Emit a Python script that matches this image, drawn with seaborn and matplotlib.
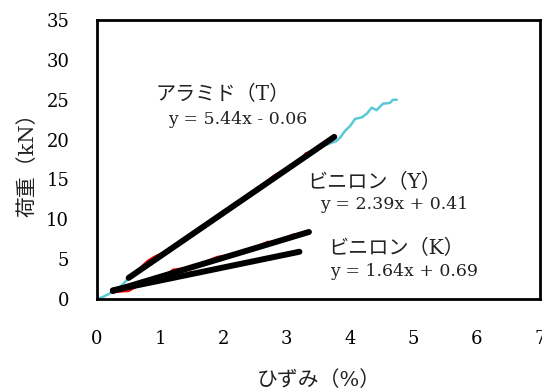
import numpy as np
import pandas as pd
import matplotlib
matplotlib.use("Agg")
import matplotlib.pyplot as plt
import seaborn as sns

# raw load-strain curve of aramid (T), cyan
aramid_x = [0.0, 0.1, 0.2, 0.3, 0.4, 0.5, 1.0, 2.0, 3.0, 3.5, 3.78, 3.85, 3.92, 4.0,
            4.08, 4.19, 4.27, 4.34, 4.42, 4.52, 4.63, 4.68, 4.74]
aramid_y = [0.0, 0.3, 0.7, 1.2, 1.8, 2.6, 5.4, 10.8, 16.3, 19.0, 19.8, 20.3, 21.1, 21.7,
            22.6, 22.8, 23.3, 24.0, 23.7, 24.5, 24.6, 25.0, 25.0]

# ranges used for regression (red)
aramid_reg_x = [0.5, 0.8, 0.9, 1.2, 1.6, 2.0, 2.1, 2.4, 2.8, 3.2, 3.3, 3.5, 3.75]
aramid_reg_y = [2.6, 4.8, 5.3, 6.4, 8.9, 10.6, 11.6, 13.0, 15.5, 17.3, 18.3, 18.8, 20.3]
vinY_x = [0.3, 0.7, 1.1, 1.2, 1.5, 1.9, 2.3, 2.7, 2.8, 3.1, 3.35]
vinY_y = [1.1, 2.3, 3.0, 3.7, 4.0, 5.3, 5.8, 7.2, 7.1, 8.1, 8.4]
vinK_x = [0.3, 0.5, 0.7, 1.1, 1.5, 1.7, 1.9, 2.3, 2.7, 3.0, 3.2]
vinK_y = [0.9, 1.0, 1.9, 2.4, 3.4, 3.3, 4.0, 4.4, 5.3, 5.4, 5.9]

# linear fits
fit_names = ["アラミド（T）", "ビニロン（Y）", "ビニロン（K）"]
fit_slope = [5.44, 2.39, 1.64]
fit_icept = [-0.06, 0.41, 0.69]
fit_x0 = [0.5, 0.25, 0.25]
fit_x1 = [3.75, 3.35, 3.2]
eq_labels = ["y = 5.44x - 0.06", "y = 2.39x + 0.41", "y = 1.64x + 0.69"]
name_pos = [(0.92, 25.6), (3.33, 14.6), (3.65, 6.3)]
eq_pos = [(1.12, 22.5), (3.52, 11.8), (3.68, 3.4)]

sns.set_theme(style="white")
plt.rcParams['font.family'] = ['DejaVu Serif', 'Noto Sans CJK JP']

fig = plt.figure(figsize=(5.42, 3.92), dpi=100)
ax = fig.add_axes([0.179, 0.237, 0.817, 0.712])

sns.lineplot(x=aramid_x, y=aramid_y, sort=False, estimator=None, color="#5bc8d6", lw=1.8, ax=ax)
for xs, ys in [(aramid_reg_x, aramid_reg_y), (vinY_x, vinY_y), (vinK_x, vinK_y)]:
    sns.lineplot(x=xs, y=ys, sort=False, estimator=None, color="red", lw=1.5, ax=ax)

for a, b, x0, x1 in zip(fit_slope, fit_icept, fit_x0, fit_x1):
    xs = np.array([x0, x1])
    ax.plot(xs, a * xs + b, color="black", lw=4.3, solid_capstyle="round")

for txt, (tx, ty) in zip(fit_names, name_pos):
    ax.text(tx, ty, txt, fontsize=14.5, ha="left", va="center", color="#222222")
for txt, (tx, ty) in zip(eq_labels, eq_pos):
    ax.text(tx, ty, txt, fontsize=12.5, ha="left", va="center", color="#222222")

ax.set_xlim(0, 7)
ax.set_ylim(0, 35)
ax.set_xticks(range(0, 8))
ax.set_yticks(range(0, 36, 5))
ax.tick_params(direction="in", length=5, width=1.3, colors="black", labelsize=13)
ax.tick_params(axis="x", pad=22)
ax.tick_params(axis="y", pad=20)
for s in ax.spines.values():
    s.set_color("black")
    s.set_linewidth(2)
ax.set_xlabel("ひずみ（%）", fontsize=15, labelpad=16, color="#222222")
ax.set_ylabel("荷重（kN）", fontsize=15, labelpad=6, color="#222222")

fig.savefig("out.png", dpi=100)
